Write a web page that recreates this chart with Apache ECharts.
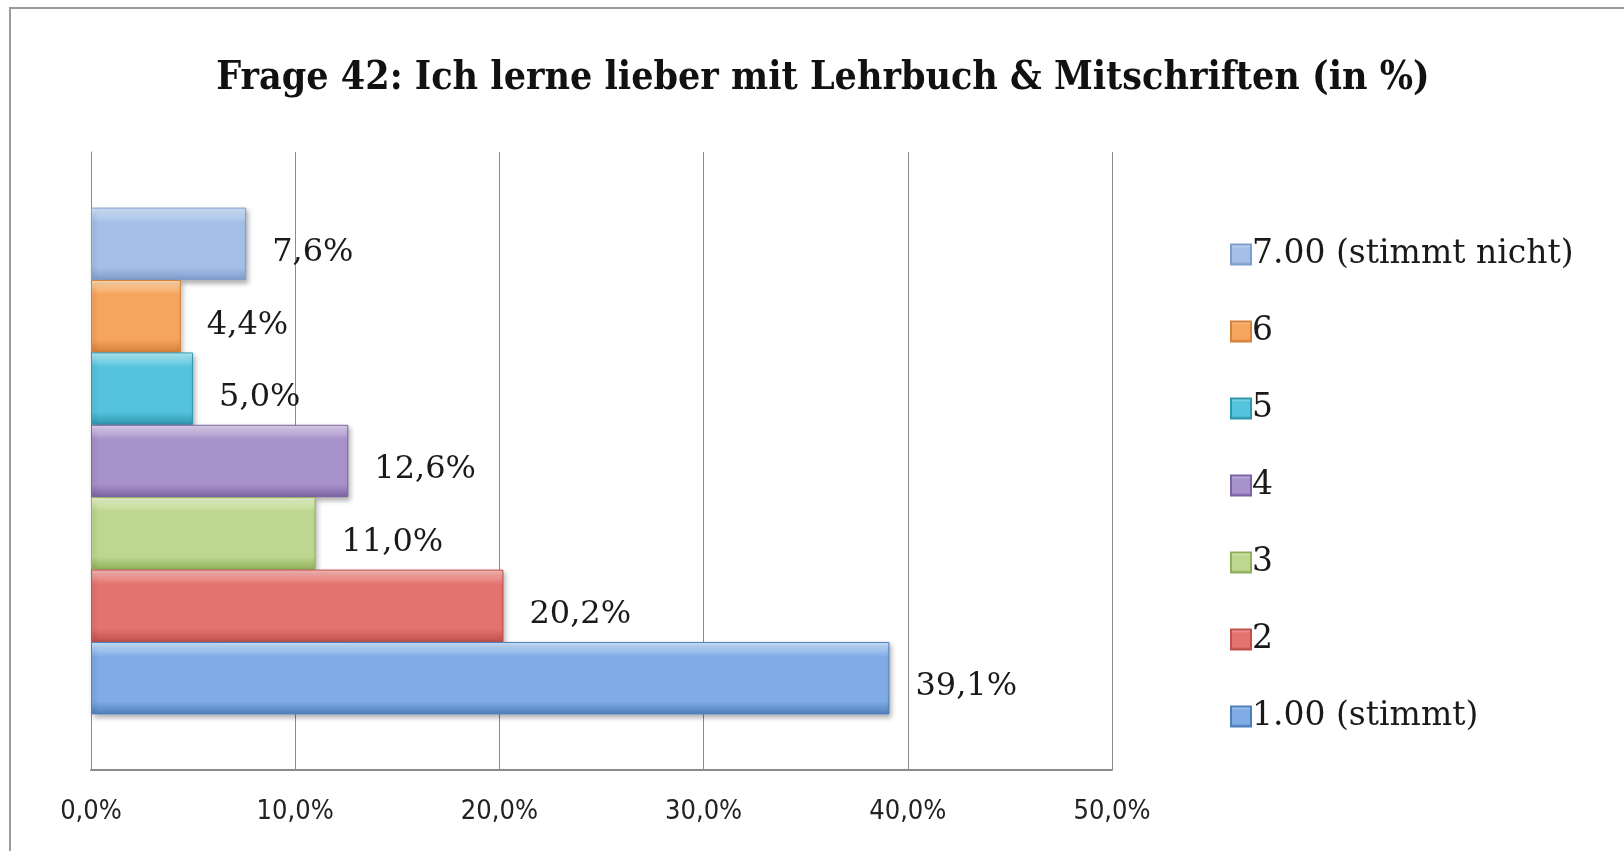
<!DOCTYPE html>
<html>
<head>
<meta charset="utf-8">
<script src="https://cdn.jsdelivr.net/npm/echarts@6/dist/echarts.min.js"></script>
<style>
  html, body { margin: 0; padding: 0; background: #fff; }
  #chart { width: 1624px; height: 851px; }
</style>
</head>
<body>
<div id="chart"></div>
<script>
// data, top bar first
var seriesNames = ['7.00 (stimmt nicht)', '6', '5', '4', '3', '2', '1.00 (stimmt)'];
var seriesValues = [7.6, 4.4, 5.0, 12.6, 11.0, 20.2, 39.1];
var categories = [''];
var tickValues = [0, 10, 20, 30, 40, 50];

// top / middle / bottom shade of each bar
var shades = [
    ['#d6e6fa', '#a5bfe6', '#7f9dcc'],
    ['#fdd9b2', '#f6a55e', '#d6813a'],
    ['#b4eef8', '#55c3dc', '#2e97ae'],
    ['#e2d6f0', '#a892cb', '#7b62a3'],
    ['#eaf5cc', '#bdd790', '#91b05a'],
    ['#f8bdb9', '#e3736f', '#c0504d'],
    ['#cce6fb', '#80abe5', '#4d7fbc']
];

function pct(v) {
    return v.toFixed(1).replace('.', ',') + '%';
}

function grad(s) {
    return new echarts.graphic.LinearGradient(0, 0, 0, 1, [
        {offset: 0, color: s[0]},
        {offset: 0.2, color: s[1]},
        {offset: 0.82, color: s[1]},
        {offset: 1, color: s[2]}
    ]);
}

var series = [];
for (var i = 0; i < seriesNames.length; i++) {
    series.push({
        name: seriesNames[i],
        type: 'bar',
        data: [seriesValues[i]],
        barGap: '0%',
        barCategoryGap: '18%',
        itemStyle: {
            color: grad(shades[i]),
            borderColor: shades[i][2],
            borderWidth: 1,
            shadowBlur: 5,
            shadowOffsetY: 3,
            shadowOffsetX: 2,
            shadowColor: 'rgba(0,0,0,0.3)'
        },
        label: {
            show: true,
            position: 'right',
            distance: 26,
            offset: [0, 9],
            fontFamily: 'DejaVu Serif',
            fontSize: 32,
            color: '#1a1a1a',
            formatter: function (p) { return pct(p.value); }
        }
    });
}

var chart = echarts.init(document.getElementById('chart'));
option = {
    backgroundColor: '#fff',
    animation: false,
    title: {
        text: 'Frage 42: Ich lerne lieber mit Lehrbuch & Mitschriften (in %)',
        left: 818,
        textAlign: 'center',
        top: 54,
        textStyle: {
            fontFamily: 'DejaVu Serif Condensed',
            fontWeight: 'bold',
            fontSize: 39,
            color: '#111'
        }
    },
    graphic: [{
        type: 'rect',
        shape: {x: 10, y: 8, width: 1700, height: 900},
        style: {fill: 'none', stroke: '#9a9a9a', lineWidth: 2},
        silent: true
    }],
    legend: {
        orient: 'vertical',
        left: 1225,
        top: 233,
        itemWidth: 20,
        itemHeight: 20,
        itemGap: 44,
        icon: 'rect',
        data: seriesNames,
        textStyle: {
            fontFamily: 'DejaVu Serif',
            fontSize: 33,
            lineHeight: 33,
            color: '#1a1a1a',
            padding: [0, 0, 0, -4]
        }
    },
    grid: {
        left: 91,
        right: 512,
        top: 152,
        bottom: 81,
        containLabel: false
    },
    xAxis: {
        type: 'value',
        min: tickValues[0],
        max: tickValues[tickValues.length - 1],
        interval: 10,
        axisLine: {show: true, lineStyle: {color: '#8c8c8c', width: 2}},
        axisTick: {show: false},
        splitLine: {show: true, lineStyle: {color: '#8c8c8c', width: 1}},
        axisLabel: {
            margin: 28,
            fontFamily: 'DejaVu Sans Condensed',
            fontSize: 27,
            color: '#222',
            formatter: function (v) { return pct(v); }
        }
    },
    yAxis: {
        type: 'category',
        data: categories,
        axisLine: {show: true, lineStyle: {color: '#8c8c8c', width: 1}},
        axisTick: {show: false},
        axisLabel: {show: false}
    },
    series: series
};
chart.setOption(option);
</script>
</body>
</html>
